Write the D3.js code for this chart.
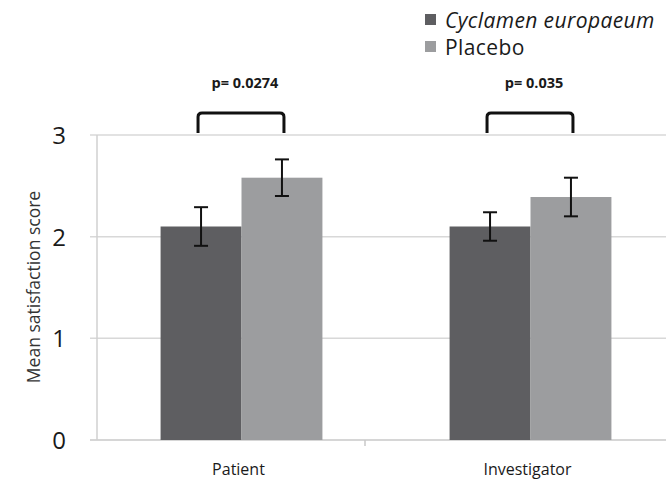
<!DOCTYPE html>
<html>
<head>
<meta charset="utf-8">
<script src="https://cdn.jsdelivr.net/npm/d3@7"></script>
<style>
  body { margin: 0; background: #fff; }
  svg { display: block; font-family: "Open Sans", sans-serif; }
</style>
</head>
<body>
<svg id="chart" width="666" height="481"></svg>
<script>
const categories = ['Patient', 'Investigator'];
const seriesNames = ['Cyclamen europaeum', 'Placebo'];
const cyclamenMeans = [2.1, 2.1];
const cyclamenErrors = [0.19, 0.14];
const placeboMeans = [2.58, 2.39];
const placeboErrors = [0.18, 0.19];
const pValues = ['p= 0.0274', 'p= 0.035'];
const yTicks = [0, 1, 2, 3];

const colors = ['#5e5e61', '#9c9d9f'];

const svg = d3.select('#chart');

const plot = { left: 97, top: 135, bottom: 440, right: 675 };

const yScale = d3.scaleLinear().domain([0, 3]).range([plot.bottom, plot.top]);

const xScale = d3.scaleBand()
  .domain(categories)
  .range([plot.left, plot.left + 2 * 289])
  .paddingInner(0.44)
  .paddingOuter(0.22);

const xInner = d3.scaleBand()
  .domain(seriesNames)
  .range([0, xScale.bandwidth()]);

// gridlines
svg.append('g')
  .selectAll('line')
  .data(yTicks)
  .enter()
  .append('line')
  .attr('x1', plot.left - 7)
  .attr('x2', 666)
  .attr('y1', d => yScale(d))
  .attr('y2', d => yScale(d))
  .attr('stroke', d => d === 0 ? '#c8c8c8' : '#d8d8d8')
  .attr('stroke-width', 1.5);

// y axis line
svg.append('line')
  .attr('x1', plot.left).attr('x2', plot.left)
  .attr('y1', plot.top).attr('y2', plot.bottom)
  .attr('stroke', '#d0d0d0')
  .attr('stroke-width', 1.5);

// category tick between groups
svg.append('line')
  .attr('x1', plot.left + 268).attr('x2', plot.left + 268)
  .attr('y1', plot.bottom).attr('y2', plot.bottom + 6)
  .attr('stroke', '#c8c8c8')
  .attr('stroke-width', 1.5);

// y tick labels
svg.append('g')
  .selectAll('text')
  .data(yTicks)
  .enter()
  .append('text')
  .attr('x', 66)
  .attr('y', d => yScale(d) + 9)
  .attr('text-anchor', 'end')
  .attr('font-size', 24)
  .attr('fill', '#1a1a1a')
  .text(d => d);

// y axis title
svg.append('text')
  .attr('transform', 'translate(40,' + 287 + ') rotate(-90)')
  .attr('text-anchor', 'middle')
  .attr('font-size', 17.5)
  .attr('fill', '#333')
  .text('Mean satisfaction score');

// bars
const barData = [];
categories.forEach((c, i) => {
  barData.push({ cat: c, series: seriesNames[0], value: cyclamenMeans[i], err: cyclamenErrors[i], color: colors[0] });
  barData.push({ cat: c, series: seriesNames[1], value: placeboMeans[i], err: placeboErrors[i], color: colors[1] });
});

const barGroup = svg.append('g');

barGroup.selectAll('rect.bar')
  .data(barData)
  .enter()
  .append('rect')
  .attr('class', 'bar')
  .attr('x', d => xScale(d.cat) + xInner(d.series))
  .attr('width', xInner.bandwidth())
  .attr('y', d => yScale(d.value))
  .attr('height', d => yScale(0) - yScale(d.value))
  .attr('fill', d => d.color);

// error bars
const errGroup = svg.append('g')
  .attr('stroke', '#111')
  .attr('stroke-width', 2);

barData.forEach(d => {
  const cx = xScale(d.cat) + xInner(d.series) + xInner.bandwidth() / 2;
  const yHi = yScale(d.value + d.err);
  const yLo = yScale(d.value - d.err);
  errGroup.append('line').attr('x1', cx).attr('x2', cx).attr('y1', yHi).attr('y2', yLo);
  errGroup.append('line').attr('x1', cx - 7).attr('x2', cx + 7).attr('y1', yHi).attr('y2', yHi);
  errGroup.append('line').attr('x1', cx - 7).attr('x2', cx + 7).attr('y1', yLo).attr('y2', yLo);
});

// significance brackets
categories.forEach((c, i) => {
  const x1 = xScale(c) + xInner(seriesNames[0]) + xInner.bandwidth() / 2 - 3;
  const x2 = xScale(c) + xInner(seriesNames[1]) + xInner.bandwidth() / 2 + 2;
  const yTop = 113;
  const yBottom = 133;
  svg.append('path')
    .attr('d', 'M' + x1 + ',' + yBottom + ' L' + x1 + ',' + (yTop + 4) + ' Q' + x1 + ',' + yTop + ' ' + (x1 + 4) + ',' + yTop
      + ' L' + (x2 - 4) + ',' + yTop + ' Q' + x2 + ',' + yTop + ' ' + x2 + ',' + (yTop + 4) + ' L' + x2 + ',' + yBottom)
    .attr('fill', 'none')
    .attr('stroke', '#111')
    .attr('stroke-width', 3);

  svg.append('text')
    .attr('x', (x1 + x2) / 2 + 4)
    .attr('y', 88)
    .attr('text-anchor', 'middle')
    .attr('font-size', 14.5)
    .attr('font-weight', 'bold')
    .attr('fill', '#1a1a1a')
    .text(pValues[i]);
});

// x labels
svg.append('g')
  .selectAll('text')
  .data(categories)
  .enter()
  .append('text')
  .attr('x', d => xScale(d) + xScale.bandwidth() / 2 - 3)
  .attr('y', 475)
  .attr('text-anchor', 'middle')
  .attr('font-size', 16)
  .attr('fill', '#1a1a1a')
  .text(d => d);

// legend
const legend = svg.append('g').attr('transform', 'translate(425,12)');
seriesNames.forEach((s, i) => {
  const row = legend.append('g').attr('transform', 'translate(0,' + (i * 27) + ')');
  row.append('rect')
    .attr('x', 0).attr('y', 2)
    .attr('width', 11).attr('height', 11)
    .attr('fill', colors[i]);
  row.append('text')
    .attr('x', 20)
    .attr('y', 16)
    .attr('font-size', 21)
    .attr('letter-spacing', 0.4)
    .attr('font-style', i === 0 ? 'italic' : 'normal')
    .attr('fill', '#1a1a1a')
    .text(s);
});
</script>
</body>
</html>
